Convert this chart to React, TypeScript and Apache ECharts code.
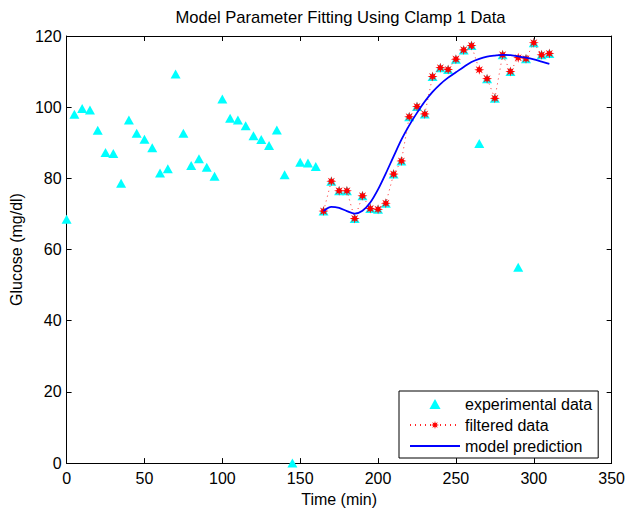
import React, { useEffect, useRef } from "react";
import * as echarts from "echarts";

const expTimes = [
  0, 5, 10, 15, 20, 25, 30, 35, 40, 45, 50, 55, 60, 65, 70, 75, 80, 85, 90, 95,
  100, 105, 110, 115, 120, 125, 130, 135, 140, 145, 150, 155, 160, 165, 170, 175,
  180, 185, 190, 195, 200, 205, 210, 215, 220, 225, 230, 235, 240, 245, 250, 255,
  260, 265, 270, 275, 280, 285, 290, 295, 300, 305, 310,
];
const expValues = [
  68.5, 98.0, 99.6, 99.2, 93.5, 87.3, 87.0, 78.6, 96.4, 92.7, 91.0, 88.6, 81.5,
  82.7, 109.3, 92.7, 83.6, 85.5, 83.1, 80.6, 102.3, 96.9, 96.4, 94.8, 92.0, 90.9,
  89.2, 93.6, 81.0, 0, 84.5, 84.3, 83.3, 70.8, 79.2, 76.5, 76.5, 68.7, 75.1, 71.5,
  71.3, 73.0, 81.2, 84.9, 97.3, 100.2, 98.1, 108.6, 111.1, 110.6, 113.5, 116.1,
  117.3, 89.8, 108.0, 102.5, 114.7, 110.0, 55.0, 113.6, 118.1, 114.7, 115.1,
];
const filtTimes = [
  165, 170, 175, 180, 185, 190, 195, 200, 205, 210, 215, 220, 225, 230, 235, 240,
  245, 250, 255, 260, 265, 270, 275, 280, 285, 290, 295, 300, 305, 310,
];
const filtValues = [
  70.8, 79.2, 76.5, 76.5, 68.7, 75.1, 71.5, 71.3, 73.0, 81.2, 84.9, 97.3, 100.2,
  98.1, 108.6, 111.1, 110.6, 113.5, 116.1, 117.3, 110.5, 108.0, 102.5, 114.7,
  110.0, 113.9, 113.6, 118.1, 114.7, 115.1,
];
const modelTimes = [
  165, 170, 175, 180, 185, 190, 195, 200, 205, 210, 215, 220, 225, 230, 235, 240,
  245, 250, 255, 260, 265, 270, 275, 280, 285, 290, 295, 300, 305, 310,
];
const modelValues = [
  70.8, 72.0, 71.7, 70.8, 70.1, 70.9, 73.2, 76.9, 81.4, 86.2, 90.9, 94.9, 98.4,
  101.6, 104.3, 106.5, 108.3, 109.8, 111.3, 112.7, 113.6, 114.2, 114.5, 114.7,
  114.6, 114.3, 113.9, 113.4, 112.8, 112.2,
];

const FONT = "'Liberation Sans', Arial, Helvetica, sans-serif";

function asteriskPath(): string {
  const pts: string[] = [];
  for (let k = 0; k < 16; k++) {
    const a = ((k * 22.5 - 90) * Math.PI) / 180;
    const r = k % 2 === 0 ? 50 : 22;
    pts.push(`${(50 + r * Math.cos(a)).toFixed(2)} ${(50 + r * Math.sin(a)).toFixed(2)}`);
  }
  return "path://M" + pts.join(" L") + " Z";
}

const TRI_ICON = "path://M5 0 L10 9 L0 9 Z";
const LINE_ICON = "path://M0 0 L50 0 L50 1.8 L0 1.8 Z";

export default function App() {
  const ref = useRef<HTMLDivElement>(null);
  useEffect(() => {
    if (!ref.current) return;
    const chart = echarts.init(ref.current, undefined, { renderer: "svg" });
    const axisCommon = {
      type: "value" as const,
      axisLine: { show: true, onZero: false, lineStyle: { color: "#000", width: 1 } },
      axisTick: { show: true, inside: true, length: 5, lineStyle: { color: "#000" } },
      splitLine: { show: false },
    };
    const labelStyle = { color: "#000", fontSize: 16, fontFamily: FONT };
    chart.setOption({
      animation: false,
      backgroundColor: "#fff",
      grid: { left: 66, right: 13, top: 36, bottom: 45.5, containLabel: false },
      graphic: [
        {
          type: "text",
          x: 340.5,
          y: 17.5,
          style: {
            text: "Model Parameter Fitting Using Clamp 1 Data",
            fill: "#000",
            font: `16.6px ${FONT}`,
            textAlign: "center",
            textVerticalAlign: "middle",
          },
        },
      ],
      xAxis: [
        {
          ...axisCommon,
          position: "bottom",
          min: 0,
          max: 350,
          interval: 50,
          axisLabel: { ...labelStyle, margin: 7 },
          name: "Time (min)",
          nameLocation: "middle",
          nameGap: 23,
          nameTextStyle: labelStyle,
        },
        {
          ...axisCommon,
          position: "top",
          min: 0,
          max: 350,
          interval: 50,
          axisLabel: { show: false },
        },
      ],
      yAxis: [
        {
          ...axisCommon,
          position: "left",
          min: 0,
          max: 120,
          interval: 20,
          axisLabel: { ...labelStyle, margin: 5 },
          name: "Glucose (mg/dl)",
          nameLocation: "middle",
          nameGap: 41,
          nameTextStyle: labelStyle,
        },
        {
          ...axisCommon,
          position: "right",
          min: 0,
          max: 120,
          interval: 20,
          axisLabel: { show: false },
        },
      ],
      legend: {
        orient: "vertical",
        left: 399,
        top: 391,
        backgroundColor: "#fff",
        borderColor: "#000",
        borderWidth: 1,
        borderRadius: 0,
        padding: [5, 6, 4, 10],
        itemWidth: 50,
        itemHeight: 10,
        itemGap: 5,
        symbolKeepAspect: true,
        textStyle: { color: "#000", fontSize: 16, fontFamily: FONT, lineHeight: 16 },
        data: [
          { name: "experimental data", icon: TRI_ICON },
          { name: "filtered data" },
          { name: "model prediction", icon: LINE_ICON },
        ],
      },
      series: [
        {
          name: "experimental data",
          type: "scatter",
          symbol: "triangle",
          symbolSize: [10, 9],
          itemStyle: { color: "#00ffff", opacity: 1 },
          clip: false,
          data: expTimes.map((t, i) => [t, expValues[i]]),
          z: 2,
        },
        {
          name: "filtered data",
          type: "line",
          symbol: asteriskPath(),
          symbolSize: 10,
          showSymbol: true,
          itemStyle: { color: "#ff0000" },
          lineStyle: { color: "#ff0000", width: 1, type: [1, 4], opacity: 0.85 },
          clip: false,
          data: filtTimes.map((t, i) => [t, filtValues[i]]),
          z: 3,
        },
        {
          name: "model prediction",
          type: "line",
          symbol: "none",
          smooth: 0.3,
          itemStyle: { color: "#0000ff" },
          lineStyle: { color: "#0000ff", width: 1.8 },
          data: modelTimes.map((t, i) => [t, modelValues[i]]),
          z: 4,
        },
      ],
    });
    return () => chart.dispose();
  }, []);
  return (
    <div
      ref={ref}
      style={{ position: "absolute", left: 0, top: 0, width: 628, height: 512, background: "#fff" }}
    />
  );
}
